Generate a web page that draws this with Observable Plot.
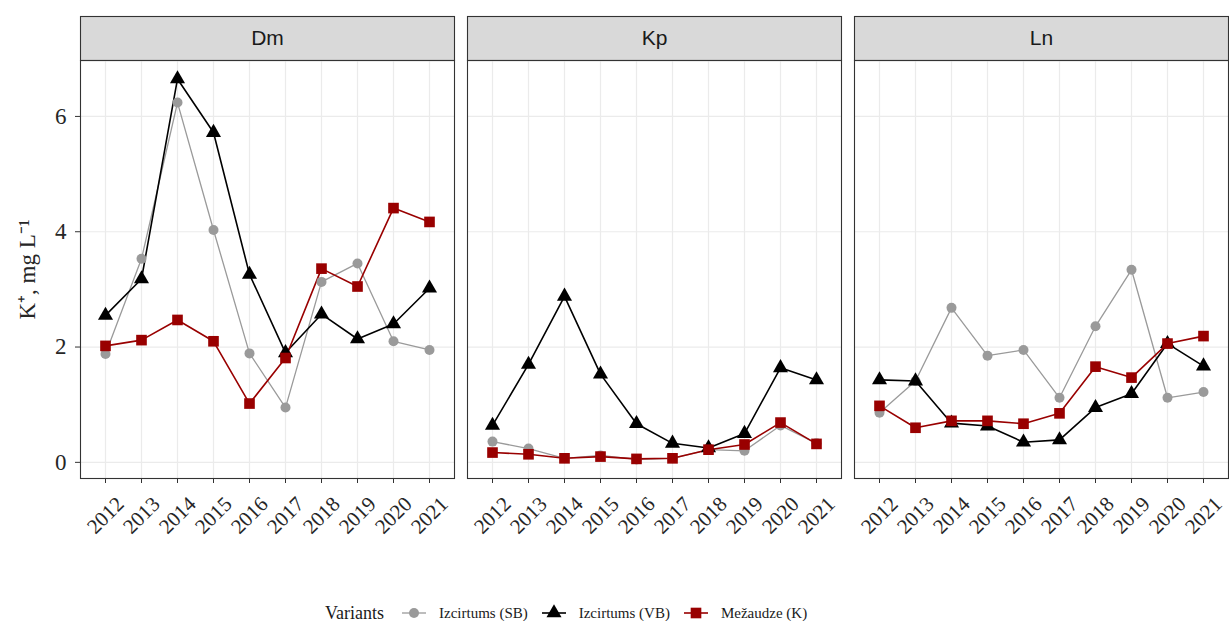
<!DOCTYPE html>
<html><head><meta charset="utf-8">
<script src="https://cdn.jsdelivr.net/npm/d3@7"></script>
<script src="https://cdn.jsdelivr.net/npm/@observablehq/plot@0.6"></script>
<style>
body{margin:0;background:#fff;position:relative;width:1229px;height:621px;overflow:hidden;}
#legend{position:absolute;left:325px;top:601px;height:24px;display:flex;align-items:center;font-family:"Liberation Serif","Times New Roman",serif;font-size:16px;color:#1a1a1a;white-space:nowrap;}
#legend span{font-family:"Liberation Serif","Times New Roman",serif;}
#legend .item{display:flex;align-items:center;}
#legend svg{display:block;}
</style></head><body>
<div id="chart"></div>
<div id="legend"></div>
<script>
const years = ["2012","2013","2014","2015","2016","2017","2018","2019","2020","2021"];
const panels = ["Dm","Kp","Ln"];
const variants = ["Izcirtums (SB)","Izcirtums (VB)","Mežaudze (K)"];
const yTicks = [0, 2, 4, 6];

// Dm
const dmSB = [1.88, 3.53, 6.24, 4.03, 1.89, 0.95, 3.13, 3.45, 2.10, 1.95];
const dmVB = [2.55, 3.18, 6.65, 5.72, 3.26, 1.90, 2.57, 2.14, 2.40, 3.02];
const dmK  = [2.02, 2.12, 2.47, 2.10, 1.02, 1.81, 3.36, 3.05, 4.41, 4.17];
// Kp
const kpSB = [0.36, 0.24, 0.07, 0.12, 0.05, 0.07, 0.22, 0.20, 0.64, 0.33];
const kpVB = [0.64, 1.70, 2.88, 1.53, 0.67, 0.33, 0.25, 0.50, 1.64, 1.43];
const kpK  = [0.17, 0.14, 0.07, 0.10, 0.06, 0.07, 0.22, 0.31, 0.69, 0.32];
// Ln
const lnSB = [0.86, 1.41, 2.68, 1.85, 1.95, 1.12, 2.36, 3.34, 1.12, 1.22];
const lnVB = [1.43, 1.41, 0.68, 0.63, 0.35, 0.39, 0.95, 1.19, 2.06, 1.67];
const lnK  = [0.98, 0.60, 0.72, 0.72, 0.67, 0.85, 1.66, 1.47, 2.06, 2.19];

const seriesByPanel = {
  Dm: [dmSB, dmVB, dmK],
  Kp: [kpSB, kpVB, kpK],
  Ln: [lnSB, lnVB, lnK]
};

const colors = ["#9a9a9a", "#000000", "#990000"];
const symbols = ["circle", "triangle", "square"];
const radii = [5, 5.6, 6.0];
const widths = [1.3, 1.6, 1.6];

const rows = [];
panels.forEach(p => {
  seriesByPanel[p].forEach((vals, i) => {
    vals.forEach((v, j) => rows.push({panel: p, year: years[j], value: v, variant: variants[i], vi: i}));
  });
});

const serif = "Liberation Serif, Times New Roman, serif";
const sans = "Liberation Sans, Arial, sans-serif";

const seriesMarks = [];
variants.forEach((v, i) => {
  const d = rows.filter(r => r.vi === i);
  seriesMarks.push(Plot.line(d, {x: "year", y: "value", fx: "panel", z: "panel", stroke: colors[i], strokeWidth: widths[i]}));
});
variants.forEach((v, i) => {
  const d = rows.filter(r => r.vi === i);
  seriesMarks.push(Plot.dot(d, {x: "year", y: "value", fx: "panel", fill: colors[i], stroke: "none", symbol: () => symbols[i], r: radii[i]}));
});

const H = 590, mTop = 60, mBottom = 112;
const innerH = H - mTop - mBottom;

const chart = Plot.plot({
  width: 1229,
  height: H,
  marginLeft: 80,
  marginRight: 1,
  marginTop: mTop,
  marginBottom: mBottom,
  style: {background: "#fff", overflow: "visible", fontFamily: serif},
  fx: {domain: panels, paddingInner: 0.0336, paddingOuter: 0, axis: null, label: null},
  x: {type: "point", domain: years, padding: 0.6, label: null},
  y: {domain: [-0.28, 6.97], label: null},
  symbol: {domain: symbols, range: symbols},
  marks: [
    Plot.frame({fill: "#d9d9d9", stroke: "#333", strokeWidth: 1.1, insetTop: -44, insetBottom: innerH}),
    Plot.text(panels, {fx: d => d, text: d => d, frameAnchor: "top", dy: -22, fontSize: 21, fontWeight: "normal", fontFamily: sans, fill: "#1a1a1a", lineAnchor: "middle"}),
    Plot.gridX(years, {stroke: "#ebebeb", strokeOpacity: 1, strokeWidth: 1.2}),
    Plot.gridY(yTicks, {stroke: "#ebebeb", strokeOpacity: 1, strokeWidth: 1.2}),
    ...seriesMarks,
    Plot.frame({stroke: "#333", strokeWidth: 1.1}),
    Plot.axisY(yTicks, {
      tickSize: 5, tickPadding: 9, stroke: "#333", fill: "#262626",
      fontSize: 23, fontFamily: serif, tickFormat: d => String(d),
      label: "K⁺, mg L⁻¹", labelAnchor: "center", labelArrow: "none", labelOffset: 62
    }),
    Plot.axisX(years, {
      tickSize: 5, tickPadding: 32, stroke: "#333", fill: "#262626",
      fontSize: 21, fontFamily: serif, tickRotate: -45,
      textAnchor: "middle", lineAnchor: "middle", label: null
    })
  ]
});
document.getElementById("chart").appendChild(chart);

// legend
const lg = document.getElementById("legend");
const title = document.createElement("span");
title.textContent = "Variants";
title.style.fontSize = "18px";
title.style.marginRight = "16px";
lg.appendChild(title);
variants.forEach((v, i) => {
  const item = document.createElement("span");
  item.className = "item";
  const ns = "http://www.w3.org/2000/svg";
  const s = document.createElementNS(ns, "svg");
  s.setAttribute("width", 28); s.setAttribute("height", 20);
  const ln = document.createElementNS(ns, "line");
  ln.setAttribute("x1", 2); ln.setAttribute("x2", 26); ln.setAttribute("y1", 10); ln.setAttribute("y2", 10);
  ln.setAttribute("stroke", colors[i]); ln.setAttribute("stroke-width", widths[i]);
  s.appendChild(ln);
  const p = document.createElementNS(ns, "path");
  p.setAttribute("d", d3.symbol(i === 0 ? d3.symbolCircle : i === 1 ? d3.symbolTriangle : d3.symbolSquare, Math.PI * radii[i] * radii[i])());
  p.setAttribute("transform", "translate(14,10)");
  p.setAttribute("fill", colors[i]);
  s.appendChild(p);
  item.appendChild(s);
  const t = document.createElement("span");
  t.textContent = v;
  t.style.marginLeft = "11px";
  t.style.marginRight = "12px";
  t.style.fontSize = "15px";
  item.appendChild(t);
  lg.appendChild(item);
});
</script>
</body></html>
